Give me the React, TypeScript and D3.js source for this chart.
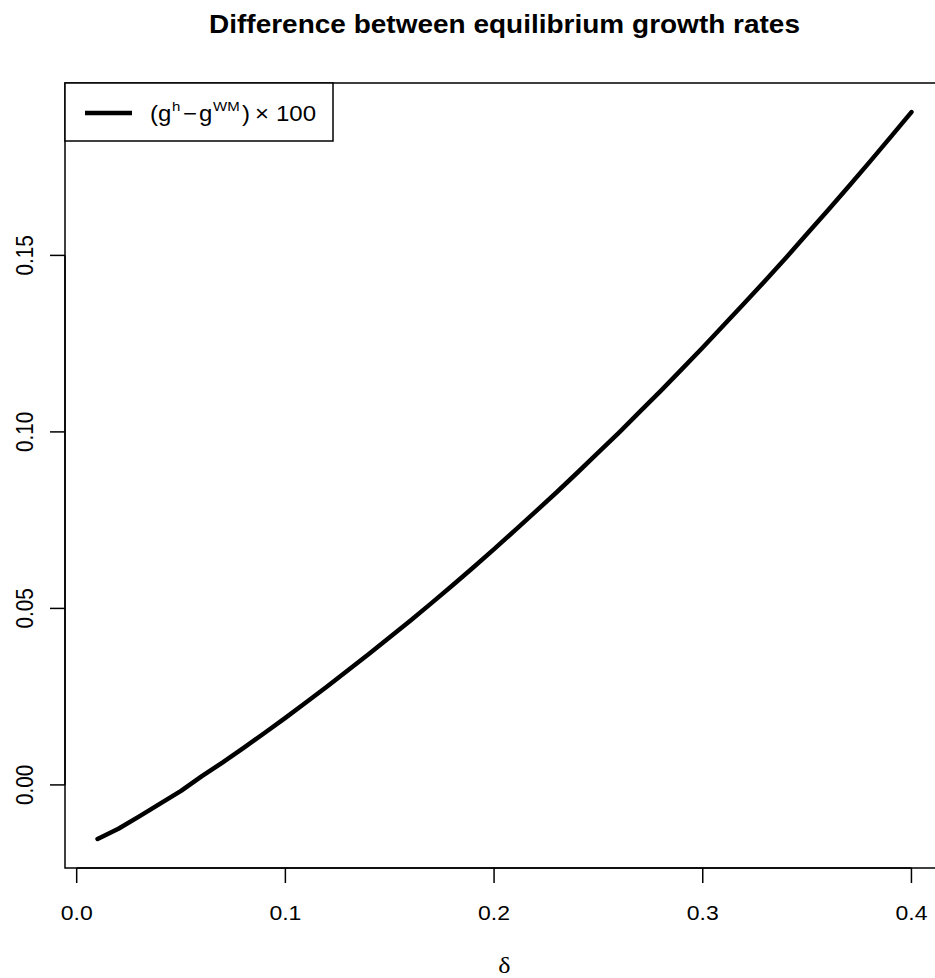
import React from "react";
import * as d3 from "d3";

const deltas = [0.01,0.02,0.03,0.04,0.05,0.06,0.07,0.08,0.09,0.10,0.11,0.12,0.13,0.14,0.15,0.16,0.17,0.18,0.19,0.20,0.21,0.22,0.23,0.24,0.25,0.26,0.27,0.28,0.29,0.30,0.31,0.32,0.33,0.34,0.35,0.36,0.37,0.38,0.39,0.40];
const diffs = [-0.0153,-0.0124,-0.0089,-0.0053,-0.0017,0.0025,0.0064,0.0105,0.0147,0.0190,0.0234,0.0279,0.0325,0.0371,0.0418,0.0466,0.0515,0.0565,0.0616,0.0668,0.0721,0.0775,0.0829,0.0885,0.0942,0.0999,0.1058,0.1117,0.1178,0.1239,0.1302,0.1365,0.1429,0.1494,0.1561,0.1628,0.1696,0.1765,0.1835,0.1906];
const xTicks = [0.0,0.1,0.2,0.3,0.4];
const xTickLabels = ["0.0","0.1","0.2","0.3","0.4"];
const yTicks = [0.0,0.05,0.10,0.15];
const yTickLabels = ["0.00","0.05","0.10","0.15"];
const title = "Difference between equilibrium growth rates";

export default function App() {
  const W = 935, H = 978;
  const left = 65, right = 944, top = 83, bottom = 868;
  const sy = 0.9;
  const xr = d3.extent(deltas) as [number, number];
  const yr = d3.extent(diffs) as [number, number];
  const xe = (xr[1] - xr[0]) * 0.04;
  const ye = (yr[1] - yr[0]) * 0.04;
  const x = d3.scaleLinear().domain([xr[0] - xe, xr[1] + xe]).range([left, right]);
  const y = d3.scaleLinear().domain([yr[0] - ye, yr[1] + ye]).range([bottom, top]);
  const line = d3.line<number>().x((_, i) => x(deltas[i])).y((d) => y(d));
  const sans = "'Liberation Sans', Arial, Helvetica, sans-serif";
  const cx = (left + right) / 2;
  return (
    <svg width={W} height={H} style={{ position: "absolute", left: 0, top: 0, background: "#fff" }}>
      <rect x={0} y={0} width={W} height={H} fill="#fff" />
      <text transform={`translate(${cx},33) scale(1,${sy})`} textAnchor="middle" fontFamily={sans} fontWeight="bold" fontSize={28} fill="#000">{title}</text>
      <rect x={left} y={top} width={right - left} height={bottom - top} fill="none" stroke="#000" strokeWidth={1.5} />
      <path d={line(diffs) || ""} fill="none" stroke="#000" strokeWidth={4.5} strokeLinecap="round" strokeLinejoin="round" />
      {xTicks.map((t, i) => (
        <g key={"x" + i}>
          <line x1={x(t)} x2={x(t)} y1={bottom} y2={bottom + 15} stroke="#000" strokeWidth={1.5} />
          <text transform={`translate(${x(t)},920) scale(1,${sy})`} textAnchor="middle" fontFamily={sans} fontSize={23} fill="#000">{xTickLabels[i]}</text>
        </g>
      ))}
      <line x1={x(0)} x2={x(0.4)} y1={bottom} y2={bottom} stroke="#000" strokeWidth={1.5} />
      {yTicks.map((t, i) => (
        <g key={"y" + i}>
          <line x1={left - 15} x2={left} y1={y(t)} y2={y(t)} stroke="#000" strokeWidth={1.5} />
          <text transform={`translate(32.5,${y(t)}) scale(1,${sy}) rotate(-90)`} textAnchor="middle" fontFamily={sans} fontSize={23} fill="#000">{yTickLabels[i]}</text>
        </g>
      ))}
      <line x1={left} x2={left} y1={y(0)} y2={y(0.15)} stroke="#000" strokeWidth={1.5} />
      <text transform={`translate(${cx},973) scale(1,${sy})`} textAnchor="middle" fontFamily="'Liberation Serif', 'DejaVu Serif', serif" fontSize={26} fill="#000">δ</text>
      <rect x={left} y={top} width={268} height={58} fill="#fff" stroke="#000" strokeWidth={1.5} />
      <line x1={85} x2={132} y1={113} y2={113} stroke="#000" strokeWidth={4.5} />
      <g transform={`translate(0,121) scale(1,${sy})`} fontFamily={sans} fill="#000">
        <text x={150} y={0} fontSize={24}>(g</text>
        <text x={172} y={-11} fontSize={15}>h</text>
        <text x={183} y={0} fontSize={24}>−</text>
        <text x={199} y={0} fontSize={24}>g</text>
        <text x={213} y={-11} fontSize={15}>WM</text>
        <text x={242} y={0} fontSize={24}>)</text>
        <text x={255} y={0} fontSize={24}>×</text>
        <text x={276} y={0} fontSize={24}>100</text>
      </g>
    </svg>
  );
}
